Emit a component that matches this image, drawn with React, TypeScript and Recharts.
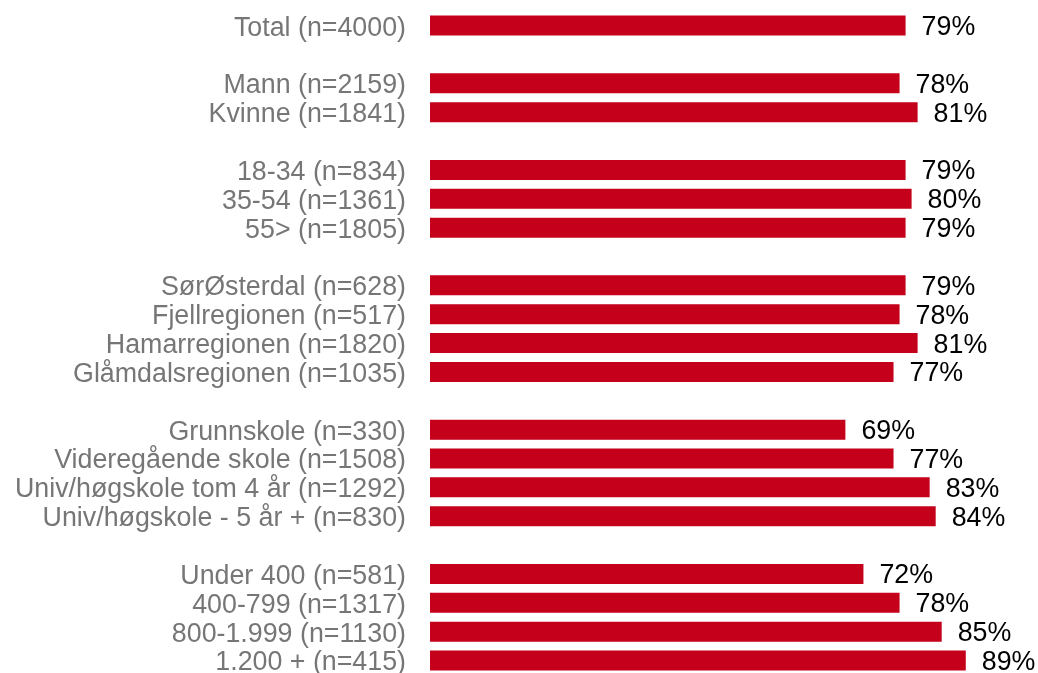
import React from 'react';
import { BarChart, Bar, XAxis, YAxis, LabelList } from 'recharts';

const categories: string[] = [
  'Total (n=4000)',
  '',
  'Mann (n=2159)',
  'Kvinne (n=1841)',
  '',
  '18-34 (n=834)',
  '35-54 (n=1361)',
  '55> (n=1805)',
  '',
  'SørØsterdal (n=628)',
  'Fjellregionen (n=517)',
  'Hamarregionen (n=1820)',
  'Glåmdalsregionen (n=1035)',
  '',
  'Grunnskole (n=330)',
  'Videregående skole (n=1508)',
  'Univ/høgskole tom 4 år (n=1292)',
  'Univ/høgskole - 5 år + (n=830)',
  '',
  'Under 400 (n=581)',
  '400-799 (n=1317)',
  '800-1.999 (n=1130)',
  '1.200 + (n=415)',
];

const values: (number | null)[] = [
  79,
  null,
  78, 81,
  null,
  79, 80, 79,
  null,
  79, 78, 81, 77,
  null,
  69, 77, 83, 84,
  null,
  72, 78, 85, 89,
];

const data = categories.map((label, i) => ({
  key: `row${i}`,
  label,
  value: values[i],
}));

const labelByKey: Record<string, string> = {};
data.forEach((d) => {
  labelByKey[d.key] = d.label;
});

const FONT = '"Liberation Sans", Arial, sans-serif';

export default function App() {
  return (
    <div
      style={{
        position: 'fixed',
        top: 8,
        left: 8,
        width: 1030,
        height: 665,
        overflow: 'hidden',
      }}
    >
      <BarChart
        width={1030}
        height={690}
        data={data}
        layout="vertical"
        margin={{ top: 3.6, right: 6, bottom: 22.6, left: 0 }}
        style={{ fontFamily: FONT }}
      >
        <XAxis type="number" domain={[0, 100]} hide />
        <YAxis
          type="category"
          dataKey="key"
          width={422}
          axisLine={false}
          tickLine={false}
          tickSize={0}
          tickMargin={24}
          interval={0}
          tickFormatter={(k: string) => labelByKey[k] ?? ''}
          tick={{ fill: '#767676', fontSize: 26.8, fontFamily: FONT }}
        />
        <Bar dataKey="value" fill="#C5001A" barSize={20} isAnimationActive={false}>
          <LabelList
            dataKey="value"
            position="right"
            offset={16}
            formatter={(v: any) => (v == null ? '' : `${v}%`)}
            style={{ fill: '#000000', fontSize: 26.8, fontFamily: FONT }}
          />
        </Bar>
      </BarChart>
    </div>
  );
}
